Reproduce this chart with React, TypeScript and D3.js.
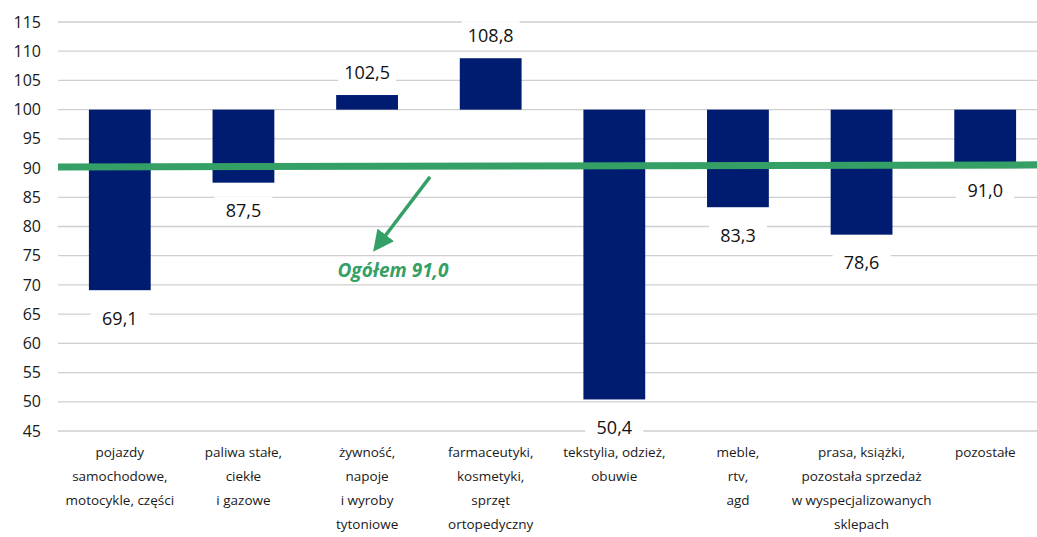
import React, { useEffect, useRef } from 'react';
import * as d3 from 'd3';

const categories: string[][] = [
  ['pojazdy', 'samochodowe,', 'motocykle, części'],
  ['paliwa stałe,', 'ciekłe', 'i gazowe'],
  ['żywność,', 'napoje', 'i wyroby', 'tytoniowe'],
  ['farmaceutyki,', 'kosmetyki,', 'sprzęt', 'ortopedyczny'],
  ['tekstylia, odzież,', 'obuwie'],
  ['meble,', 'rtv,', 'agd'],
  ['prasa, książki,', 'pozostała sprzedaż', 'w wyspecjalizowanych', 'sklepach'],
  ['pozostałe'],
];
const values = [69.1, 87.5, 102.5, 108.8, 50.4, 83.3, 78.6, 91.0];
const yTicks = [45, 50, 55, 60, 65, 70, 75, 80, 85, 90, 95, 100, 105, 110, 115];
// total line as drawn (slightly tilted in the original)
const totalLine = [90.2, 90.55];
const totalLabel = 'Ogółem 91,0';

const W = 1037;
const H = 537;

const App: React.FC = () => {
  const ref = useRef<SVGSVGElement>(null);

  useEffect(() => {
    const svg = d3.select(ref.current);
    svg.selectAll('*').remove();

    const margin = { top: 22, bottom: 106, left: 58 };
    const font = '"Open Sans", sans-serif';
    const navy = '#001c71';
    const green = '#35a066';

    // band range runs a little past the right edge, as in the original
    const x = d3.scaleBand<number>()
      .domain(d3.range(values.length))
      .range([margin.left, 1047])
      .paddingInner(0.5)
      .paddingOuter(0.25);

    const y = d3.scaleLinear()
      .domain([45, 115])
      .range([H - margin.bottom, margin.top]);

    // gridlines
    svg.append('g')
      .selectAll('line')
      .data(yTicks)
      .enter()
      .append('line')
      .attr('x1', margin.left)
      .attr('x2', W)
      .attr('y1', d => y(d))
      .attr('y2', d => y(d))
      .attr('stroke', '#cfcfcf')
      .attr('stroke-width', 1.3);

    // y labels
    svg.append('g')
      .selectAll('text')
      .data(yTicks)
      .enter()
      .append('text')
      .attr('x', 41)
      .attr('y', d => y(d))
      .attr('dy', '0.35em')
      .attr('text-anchor', 'end')
      .style('font-family', font)
      .style('font-size', '16px')
      .attr('fill', '#1a1a1a')
      .text(d => d);

    // bars from 100
    svg.append('g')
      .selectAll('rect')
      .data(values)
      .enter()
      .append('rect')
      .attr('x', (_, i) => x(i) as number)
      .attr('width', x.bandwidth())
      .attr('y', d => y(Math.max(d, 100)))
      .attr('height', d => Math.abs(y(d) - y(100)))
      .attr('fill', navy);

    // total line
    svg.append('line')
      .attr('x1', margin.left)
      .attr('x2', W)
      .attr('y1', y(totalLine[0]))
      .attr('y2', y(totalLine[1]))
      .attr('stroke', green)
      .attr('stroke-width', 7);

    // value labels with white boxes
    const labels = svg.append('g')
      .selectAll('g')
      .data(values)
      .enter()
      .append('g')
      .attr('transform', (d, i) => {
        const cx = (x(i) as number) + x.bandwidth() / 2;
        const cy = d >= 100 ? y(d) - 23 : y(d) + 28;
        return `translate(${cx},${cy})`;
      });
    labels.append('rect')
      .attr('x', -29)
      .attr('y', -14)
      .attr('width', 58)
      .attr('height', 28)
      .attr('fill', '#fff');
    labels.append('text')
      .attr('text-anchor', 'middle')
      .attr('dy', '0.36em')
      .style('font-family', font)
      .style('font-size', '18px')
      .attr('fill', '#111')
      .text(d => d.toFixed(1).replace('.', ','));

    // category labels
    const cats = svg.append('g')
      .selectAll('text')
      .data(categories)
      .enter()
      .append('text')
      .attr('text-anchor', 'middle')
      .style('font-family', font)
      .style('font-size', '13.5px')
      .attr('fill', '#1a1a1a');
    cats.each(function (lines, i) {
      const t = d3.select(this);
      const cx = (x(i) as number) + x.bandwidth() / 2;
      lines.forEach((l, j) => {
        t.append('tspan')
          .attr('x', cx)
          .attr('y', 457 + j * 24)
          .text(l);
      });
    });

    // annotation arrow
    const defs = svg.append('defs');
    defs.append('marker')
      .attr('id', 'arr')
      .attr('viewBox', '0 0 10 10')
      .attr('refX', 3)
      .attr('refY', 5)
      .attr('markerWidth', 6)
      .attr('markerHeight', 6)
      .attr('orient', 'auto')
      .append('path')
      .attr('d', 'M0,0 L10,5 L0,10 Z')
      .attr('fill', green);

    svg.append('line')
      .attr('x1', 430)
      .attr('y1', y(88.5))
      .attr('x2', 382)
      .attr('y2', y(77.7))
      .attr('stroke', green)
      .attr('stroke-width', 3.5)
      .attr('marker-end', 'url(#arr)');

    svg.append('text')
      .attr('x', 393)
      .attr('y', 277)
      .attr('text-anchor', 'middle')
      .style('font-family', font)
      .style('font-size', '19px')
      .style('font-weight', 'bold')
      .style('font-style', 'italic')
      .attr('fill', green)
      .text(totalLabel);
  }, []);

  return (
    <div style={{ position: 'absolute', left: 0, top: 0 }}>
      <svg ref={ref} width={W} height={H} style={{ display: 'block', background: '#fff' }} />
    </div>
  );
};

export default App;
